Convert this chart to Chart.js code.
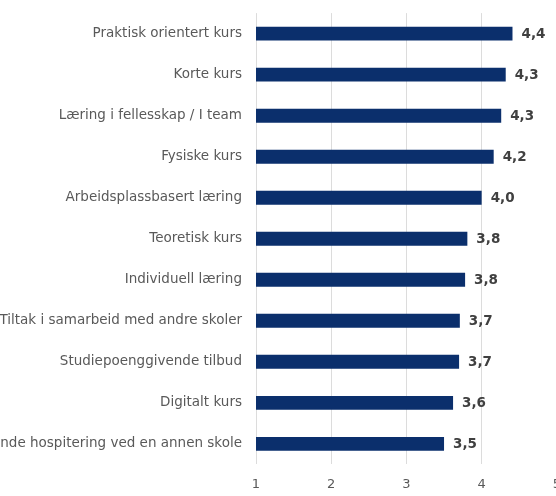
<!DOCTYPE html>
<html>
<head>
<meta charset="utf-8">
<script src="https://cdn.jsdelivr.net/npm/chart.js@4"></script>
<style>
  html, body { margin: 0; padding: 0; background: #fff; overflow: hidden; }
  #wrap { width: 556px; height: 496px; overflow: hidden; }
  #chart { display: block; margin-top: -9px; }
</style>
</head>
<body>
<div id="wrap"><canvas id="chart" width="573" height="517"></canvas></div>
<script>
const categories = [
  "Praktisk orientert kurs",
  "Korte kurs",
  "Læring i fellesskap / I team",
  "Fysiske kurs",
  "Arbeidsplassbasert læring",
  "Teoretisk kurs",
  "Individuell læring",
  "Tiltak i samarbeid med andre skoler",
  "Studiepoenggivende tilbud",
  "Digitalt kurs",
  "Veiledende hospitering ved en annen skole"
];
const values = [4.41, 4.32, 4.26, 4.16, 4.0, 3.81, 3.78, 3.71, 3.70, 3.62, 3.50];
const xTicks = [1, 2, 3, 4, 5];

const valueLabels = {
  id: "valueLabels",
  afterDatasetsDraw(chart) {
    const ctx = chart.ctx;
    const meta = chart.getDatasetMeta(0);
    ctx.save();
    ctx.font = "bold 13.5px 'DejaVu Sans'";
    ctx.fillStyle = "#404040";
    ctx.textBaseline = "middle";
    ctx.textAlign = "left";
    meta.data.forEach((bar, i) => {
      const txt = values[i].toFixed(1).replace(".", ",");
      ctx.fillText(txt, bar.x + 9, bar.y + 1);
    });
    ctx.restore();
  }
};

new Chart(document.getElementById("chart"), {
  type: "bar",
  data: {
    labels: categories,
    datasets: [{
      data: values,
      backgroundColor: "#0b2f6c",
      borderWidth: 0,
      barPercentage: 0.68,
      categoryPercentage: 0.5
    }]
  },
  options: {
    indexAxis: "y",
    responsive: false,
    animation: false,
    layout: { padding: { top: 0, bottom: 4, left: 0, right: 0 } },
    plugins: { legend: { display: false }, tooltip: { enabled: false } },
    scales: {
      x: {
        min: 1,
        max: 5,
        afterBuildTicks: scale => { scale.ticks = xTicks.map(v => ({ value: v })); },
        grid: { color: "#dcdcdc", drawTicks: false },
        border: { display: false },
        ticks: { color: "#595959", padding: 12, font: { family: "'DejaVu Sans'", size: 13 } }
      },
      y: {
        afterFit: scale => { scale.width = 256; },
        grid: { display: false, drawTicks: false },
        border: { display: false },
        ticks: { color: "#595959", padding: 14, font: { family: "'DejaVu Sans'", size: 13.5 } }
      }
    }
  },
  plugins: [valueLabels]
});
</script>
</body>
</html>
